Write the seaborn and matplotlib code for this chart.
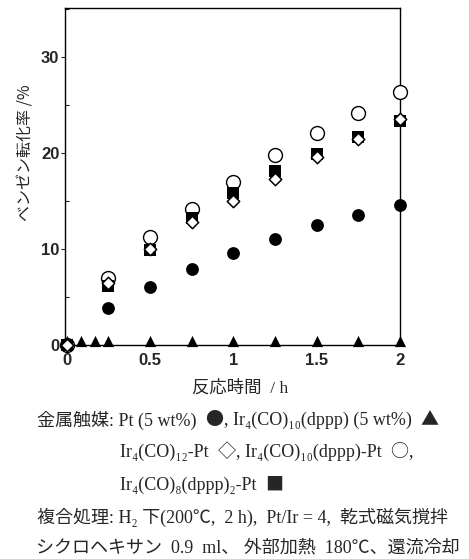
import matplotlib
matplotlib.use("Agg")
import matplotlib.pyplot as plt
import seaborn as sns
from matplotlib.ticker import MultipleLocator

# reaction time (h) and benzene conversion (%)
time_h = [0, 0.25, 0.5, 0.75, 1.0, 1.25, 1.5, 1.75, 2.0]
pt_only = [0, 3.9, 6.0, 7.9, 9.6, 11.0, 12.5, 13.5, 14.6]
ir12_pt = [0, 6.45, 10.0, 12.8, 14.95, 17.3, 19.6, 21.5, 23.5]
ir10_pt = [0, 7.0, 11.2, 14.2, 17.0, 19.75, 22.1, 24.2, 26.3]
ir8_pt = [0, 6.1, 9.9, 13.2, 15.8, 18.1, 19.9, 21.7, 23.3]

ir_time_h = [0, 0.083, 0.167, 0.25, 0.5, 0.75, 1.0, 1.25, 1.5, 1.75, 2.0]
ir_only = [0.4, 0.4, 0.4, 0.4, 0.4, 0.4, 0.4, 0.4, 0.4, 0.4, 0.4]

x_ticks = [0, 0.5, 1, 1.5, 2]
x_tick_labels = ["0", "0.5", "1", "1.5", "2"]
y_ticks = [0, 10, 20, 30]

sns.set_style("ticks")
plt.rcParams["font.family"] = ["Liberation Sans", "Noto Sans CJK JP"]

fig = plt.figure(figsize=(4.69, 5.59), dpi=100)
ax = fig.add_axes([65 / 469, 1 - 345 / 559, 335 / 469, 337 / 559])

common = dict(ax=ax, clip_on=False, legend=False)
sns.scatterplot(x=ir_time_h, y=ir_only, marker="^", s=65, color="black",
                edgecolor="black", linewidth=0, zorder=3, **common)
sns.scatterplot(x=time_h, y=pt_only, marker="o", s=85, color="black",
                edgecolor="black", linewidth=0, zorder=3, **common)
sns.scatterplot(x=time_h, y=ir10_pt, marker="o", s=100, color="white",
                edgecolor="black", linewidth=1.0, zorder=3, **common)
sns.scatterplot(x=time_h, y=ir8_pt, marker="s", s=65, color="black",
                edgecolor="black", linewidth=0, zorder=4, **common)
sns.scatterplot(x=time_h, y=ir12_pt, marker="D", s=40, color="white",
                edgecolor="black", linewidth=1.1, zorder=5, **common)

ax.set_xlim(-0.01, 1.995)
ax.set_ylim(0, 35.1)
ax.set_xticks(x_ticks)
ax.set_xticklabels(x_tick_labels)
ax.set_yticks(y_ticks)
ax.yaxis.set_minor_locator(MultipleLocator(5))
ax.tick_params(axis="y", which="major", direction="out", length=3, width=0.8,
               pad=1, labelsize=12)
ax.tick_params(axis="y", which="minor", direction="in", length=3, width=0.8)
ax.tick_params(axis="x", which="major", direction="in", length=0, pad=6,
               labelsize=12)
for lab in ax.get_xticklabels() + ax.get_yticklabels():
    lab.set_fontweight("bold")
for side in ["left", "right", "top", "bottom"]:
    ax.spines[side].set_visible(True)
    ax.spines[side].set_linewidth(1.0)
    ax.spines[side].set_color("black")

ax.set_xlabel("")
ax.set_ylabel("ベンゼン転化率 /%", fontsize=11.5, family=["Noto Sans CJK JP"])
ax.yaxis.set_label_coords(-0.09, 0.57)

serif = ["Liberation Serif", "Noto Sans CJK JP", "DejaVu Serif"]
symf = ["Noto Sans CJK JP"]
fs = 13
renderer = fig.canvas.get_renderer()


def put(x_px, y_px, runs, size=fs, ha="left"):
    # runs: text pieces drawn one after another; symbols use the CJK font
    if isinstance(runs, str):
        runs = [runs]
    x = x_px
    for piece in runs:
        fam = symf if piece in "●▲◇○■" else serif
        t = fig.text(x / 469, 1 - y_px / 559, piece, ha=ha, va="center",
                     fontsize=size, family=fam)
        x = t.get_window_extent(renderer).x1


put(240, 388, "反応時間  / h", size=12.5, ha="center")
put(37, 420, ["金属触媒: Pt (5 wt%)  ", "●", ", Ir₄(CO)₁₀(dppp) (5 wt%)  ", "▲"])
put(120, 452, ["Ir₄(CO)₁₂-Pt  ", "◇", ", Ir₄(CO)₁₀(dppp)-Pt  ", "○", ","])
put(120, 485, ["Ir₄(CO)₈(dppp)₂-Pt  ", "■"])
put(37, 517, "複合処理: H₂ 下(200℃,  2 h),  Pt/Ir = 4,  乾式磁気撹拌")
put(36, 548, "シクロヘキサン  0.9  ml、 外部加熱  180℃、還流冷却")

fig.savefig("out.png", dpi=100)
